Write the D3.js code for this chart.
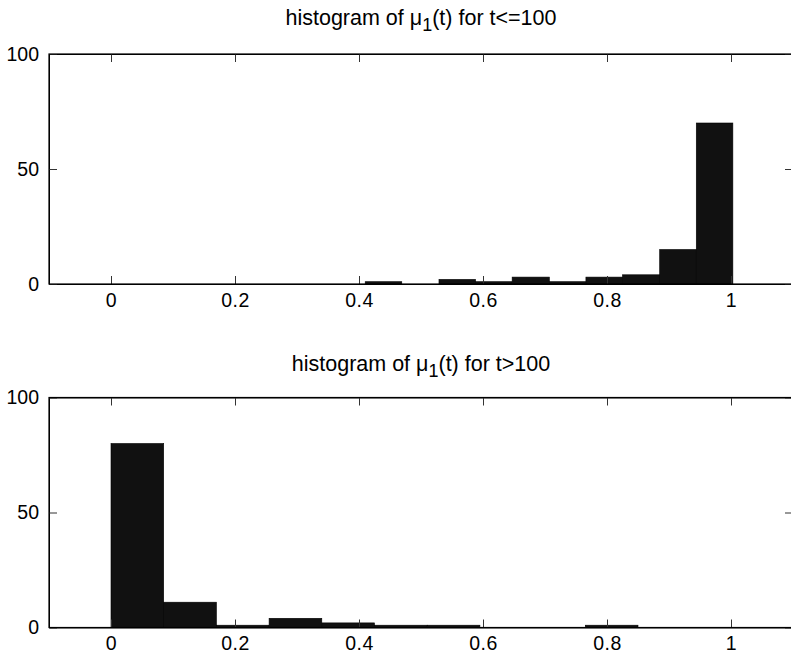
<!DOCTYPE html>
<html>
<head>
<meta charset="utf-8">
<script src="https://cdn.jsdelivr.net/npm/d3@7"></script>
<style>
  body { margin: 0; background: #fff; }
  svg { display: block; font-family: Arial, "Liberation Sans", Helvetica, sans-serif; }
</style>
</head>
<body>
<script>
// histogram bins: edges (n+1) and counts (n)
const edgesEarly = [0.410, 0.469, 0.529, 0.588, 0.647, 0.707, 0.766, 0.825, 0.885, 0.944, 1.003]
const countsEarly = [1, 0, 2, 1, 3, 1, 3, 4, 15, 70]

const edgesLate = [0, 0.085, 0.170, 0.255, 0.340, 0.425, 0.510, 0.595, 0.680, 0.765, 0.850]
const countsLate = [80, 11, 1, 4, 2, 1, 1, 0, 0, 1]

const xTicks = [0, 0.2, 0.4, 0.6, 0.8, 1]
const yTicks = [0, 50, 100]

const width = 791
const height = 657

const svg = d3.select("body").append("svg")
    .attr("width", width)
    .attr("height", height)

const xScale = d3.scaleLinear().domain([-0.1, 1.1]).range([49, 793])

function drawPanel(edges, counts, top, bottom, titleY, cmp) {
  const yScale = d3.scaleLinear().domain([0, 100]).range([bottom, top])
  const g = svg.append("g")

  const bins = counts.map((c, i) => ({x0: edges[i], x1: edges[i + 1], n: c}))

  // bars (MATLAB hist style, flat line for empty bins)
  g.selectAll("rect.bar")
    .data(bins)
    .enter()
    .append("rect")
      .attr("class", "bar")
      .attr("x", d => xScale(d.x0))
      .attr("width", d => xScale(d.x1) - xScale(d.x0))
      .attr("y", d => yScale(d.n))
      .attr("height", d => yScale(0) - yScale(d.n))
      .attr("fill", "#111")
      .attr("stroke", "#000")
      .attr("stroke-width", 0.6)

  // axes, ticks pointing in
  const xAxis = d3.axisBottom(xScale).tickValues(xTicks).tickFormat(d3.format("")).tickSize(-8).tickPadding(9).tickSizeOuter(0)
  const xAxisTop = d3.axisTop(xScale).tickValues(xTicks).tickFormat("").tickSize(-8).tickSizeOuter(0)
  const yAxis = d3.axisLeft(yScale).tickValues(yTicks).tickSize(-8).tickPadding(10).tickSizeOuter(0)
  const yAxisRight = d3.axisRight(yScale).tickValues(yTicks).tickFormat("").tickSize(-8).tickSizeOuter(0)

  g.append("g").attr("class", "xax").attr("transform", `translate(0,${bottom})`).call(xAxis)
  g.append("g").attr("transform", `translate(0,${top})`).call(xAxisTop)
  g.append("g").attr("transform", `translate(49,0)`).call(yAxis)
  g.append("g").attr("transform", `translate(793,0)`).call(yAxisRight)

  g.selectAll(".tick text")
      .attr("fill", "#000")
      .style("font-size", "19.5px")
      .style("font-family", "Arial, 'Liberation Sans', sans-serif")
  g.selectAll(".xax .tick text").style("letter-spacing", "0.5px")
  g.selectAll(".tick line").attr("stroke", "#333")
  g.selectAll(".domain").attr("stroke", "#000")

  g.append("rect")
      .attr("x", xScale.range()[0])
      .attr("y", top)
      .attr("width", xScale.range()[1] - xScale.range()[0])
      .attr("height", bottom - top)
      .attr("fill", "none")
      .attr("stroke", "#000")
      .attr("stroke-width", 1.2)

  // title with subscript
  const t = g.append("text")
      .attr("x", (xScale.range()[0] + xScale.range()[1]) / 2)
      .attr("y", titleY)
      .attr("text-anchor", "middle")
      .style("font-size", "21.5px")
  t.append("tspan").text("histogram of \u03bc")
  t.append("tspan").attr("dy", 6).style("font-size", "18px").text("1")
  t.append("tspan").attr("dy", -6).text(`(t) for t${cmp}100`)
}

drawPanel(edgesEarly, countsEarly, 54, 284, 25, "<=")
drawPanel(edgesLate, countsLate, 397.5, 627.5, 371, ">")
</script>
</body>
</html>
